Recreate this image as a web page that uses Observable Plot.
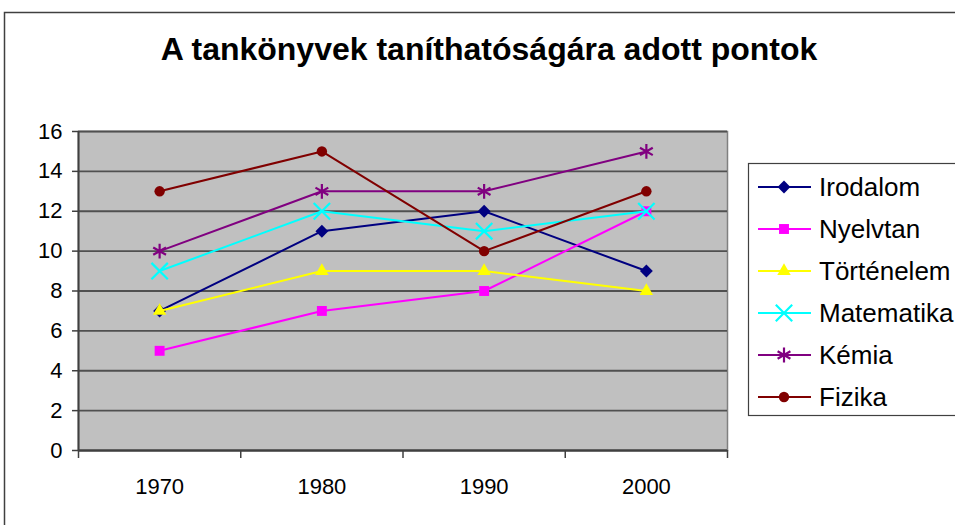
<!DOCTYPE html>
<html>
<head>
<meta charset="utf-8">
<script src="https://cdn.jsdelivr.net/npm/d3@7"></script>
<script src="https://cdn.jsdelivr.net/npm/@observablehq/plot@0.6"></script>
<style>
  html, body { margin: 0; padding: 0; background: #fff; }
  #wrap { position: relative; width: 955px; height: 525px; overflow: hidden; font-family: "Liberation Sans", Arial, sans-serif; }
  #wrap > svg { position: absolute; left: 0; top: 0; }
</style>
</head>
<body>
<div id="wrap"></div>
<script>
// ---- data ----
const title = "A tankönyvek taníthatóságára adott pontok";
const years = [1970, 1980, 1990, 2000];
const seriesNames = ["Irodalom", "Nyelvtan", "Történelem", "Matematika", "Kémia", "Fizika"];
const irodalom   = [7, 11, 12, 9];
const nyelvtan   = [5, 7, 8, 12];
const tortenelem = [7, 9, 9, 8];
const matematika = [9, 12, 11, 12];
const kemia      = [10, 13, 13, 15];
const fizika     = [13, 15, 10, 13];
const yTicks = [0, 2, 4, 6, 8, 10, 12, 14, 16];

// ---- styles ----
const seriesValues = [irodalom, nyelvtan, tortenelem, matematika, kemia, fizika];
const colors  = ["#000080", "#ff00ff", "#ffff00", "#00ffff", "#800080", "#800000"];
const symbols = ["diamond2", "square", "triangle", "times", "asterisk", "circle"];
const filled  = [true, true, true, false, false, true];
const radius  = [5.8, 5.6, 5, 7.5, 7, 5.2];
const d3Sym = {diamond2: d3.symbolDiamond2, square: d3.symbolSquare, triangle: d3.symbolTriangle,
               times: d3.symbolTimes, asterisk: d3.symbolAsterisk, circle: d3.symbolCircle};

const rows = seriesNames.flatMap((s, i) => years.map((y, j) => ({series: s, idx: i, year: y, value: seriesValues[i][j]})));
const step = years[1] - years[0];
const boundaries = [years[0] - step / 2, ...years.map(y => y + step / 2)];

const marks = [
  Plot.frame({fill: "#c0c0c0", stroke: "#808080", strokeWidth: 1.5}),
  Plot.gridY({ticks: yTicks, stroke: "#505050", strokeOpacity: 1, strokeWidth: 1.8}),
  Plot.axisY({ticks: yTicks, label: null, tickSize: 6, tickPadding: 10, fontSize: 22, stroke: "#404040", strokeWidth: 1.5, fill: "#000"}),
  Plot.axisX({ticks: years, label: null, tickSize: 0, tickPadding: 28, fontSize: 22, tickFormat: d => String(d), fill: "#000"}),
  Plot.axisX({ticks: boundaries, label: null, tickSize: 8, tickFormat: () => "", stroke: "#404040", strokeWidth: 1.5}),
  Plot.ruleX([boundaries[0]], {stroke: "#404040", strokeWidth: 2}),
  Plot.ruleY([0], {stroke: "#404040", strokeWidth: 2})
];
seriesNames.forEach((s, i) => {
  const data = rows.filter(r => r.series === s);
  marks.push(Plot.line(data, {x: "year", y: "value", stroke: colors[i], strokeWidth: 2}));
  marks.push(Plot.dot(data, filled[i]
    ? {x: "year", y: "value", symbol: symbols[i], r: radius[i], fill: colors[i], stroke: "none"}
    : {x: "year", y: "value", symbol: symbols[i], r: radius[i], fill: "none", stroke: colors[i], strokeWidth: 2.2}));
});

const chart = Plot.plot({
  width: 955, height: 525,
  marginLeft: 78, marginRight: 228, marginTop: 131, marginBottom: 75,
  style: {background: "transparent", fontFamily: "'Liberation Sans', Arial, sans-serif", fontSize: "22px", color: "#000"},
  x: {type: "linear", domain: [boundaries[0], boundaries[boundaries.length - 1]], axis: null},
  y: {domain: [0, 16], axis: null},
  marks
});
d3.select(chart).selectAll("text").style("font-size", "22px");
document.getElementById("wrap").appendChild(chart);

// ---- overlay: border, title, legend ----
const ov = d3.select("#wrap").append("svg").attr("width", 955).attr("height", 525)
  .style("font-family", "'Liberation Sans', Arial, sans-serif");
ov.append("rect").attr("x", 4.5).attr("y", 12.5).attr("width", 1000).attr("height", 600)
  .attr("fill", "none").attr("stroke", "#404040").attr("stroke-width", 1.5);
ov.append("text").attr("x", 489).attr("y", 60).attr("text-anchor", "middle")
  .attr("font-size", 32).attr("font-weight", "bold").attr("fill", "#000").text(title);

const lg = ov.append("g");
lg.append("rect").attr("x", 748.5).attr("y", 163.5).attr("width", 300).attr("height", 252)
  .attr("fill", "#fff").attr("stroke", "#404040").attr("stroke-width", 1.2);
seriesNames.forEach((s, i) => {
  const cy = 187 + i * 42;
  const g = lg.append("g");
  g.append("line").attr("x1", 758).attr("x2", 811).attr("y1", cy).attr("y2", cy)
    .attr("stroke", colors[i]).attr("stroke-width", 2);
  g.append("path").attr("transform", `translate(784,${cy})`)
    .attr("d", d3.symbol().type(d3Sym[symbols[i]]).size(Math.PI * radius[i] * radius[i])())
    .attr("fill", filled[i] ? colors[i] : "none")
    .attr("stroke", filled[i] ? "none" : colors[i]).attr("stroke-width", 2.2);
  g.append("text").attr("x", 819).attr("y", cy).attr("dy", "0.36em")
    .attr("font-size", 26).attr("fill", "#000").text(s);
});
</script>
</body>
</html>
